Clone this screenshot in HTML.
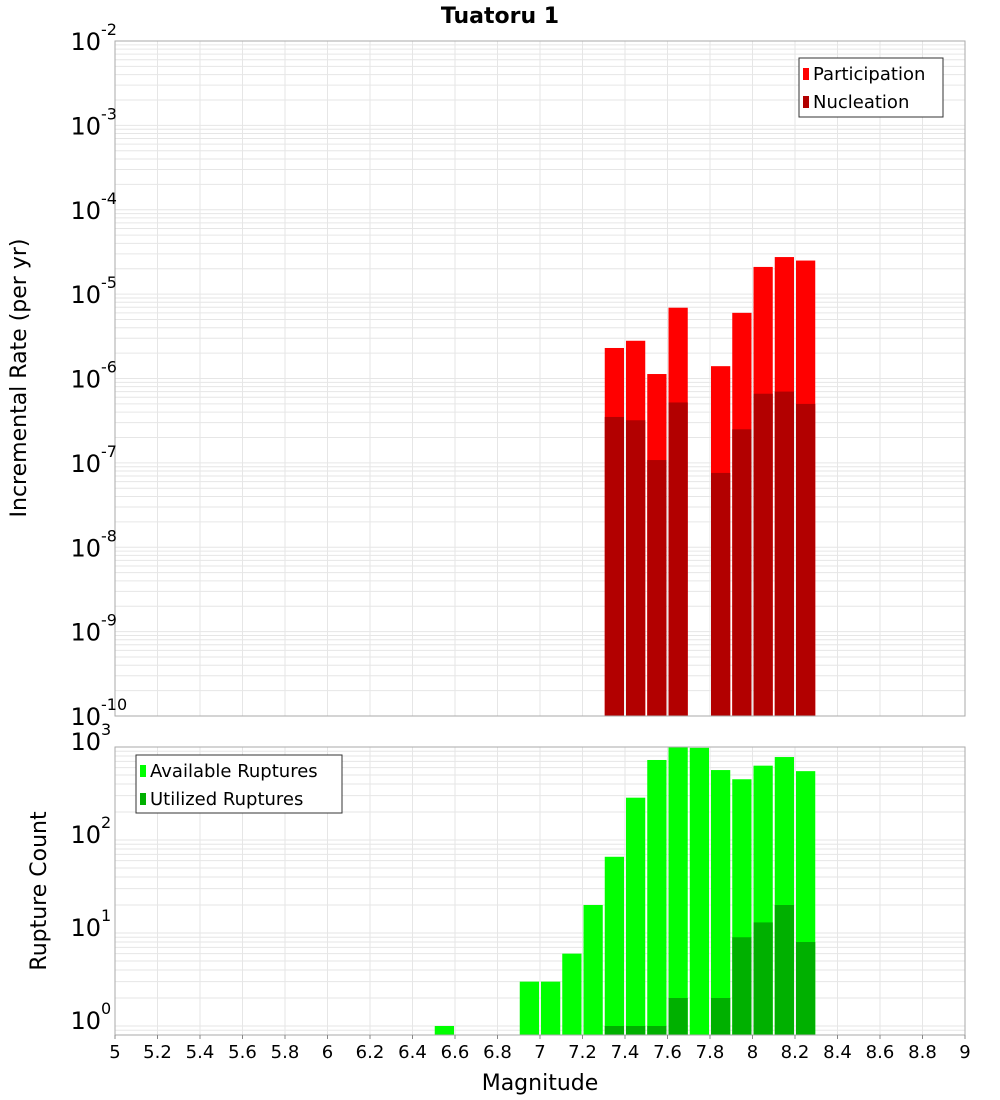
<!DOCTYPE html>
<html><head><meta charset="utf-8"><style>
html,body{margin:0;padding:0;background:#fff;}
svg{display:block;font-family:"DejaVu Sans","Liberation Sans",sans-serif;}
</style></head><body>
<svg id="chart" width="1000" height="1100" xmlns="http://www.w3.org/2000/svg">
<text x="500" y="23" text-anchor="middle" font-size="22" font-weight="bold">Tuatoru 1</text>
<g id="topPlot"></g>
<g id="botPlot"></g>
<text transform="translate(26,378) rotate(-90)" text-anchor="middle" font-size="22">Incremental Rate (per yr)</text>
<text transform="translate(46,891) rotate(-90)" text-anchor="middle" font-size="22">Rupture Count</text>
<text x="540" y="1090" text-anchor="middle" font-size="22">Magnitude</text>
</svg>
<script>
const magBins = [7.3,7.4,7.5,7.6,7.8,7.9,8.0,8.1,8.2];
const participation = [2.3e-6,2.8e-6,1.13e-6,6.9e-6,1.4e-6,6e-6,2.1e-5,2.75e-5,2.5e-5];
const nucleation = [3.5e-7,3.2e-7,1.08e-7,5.2e-7,7.6e-8,2.5e-7,6.6e-7,7e-7,5e-7];
const countBins = [6.5,6.9,7.0,7.1,7.2,7.3,7.4,7.5,7.6,7.7,7.8,7.9,8.0,8.1,8.2];
const available = [1,3,3,6,20,66,285,725,1000,980,565,450,630,780,550];
const utilized = [0,0,0,0,0,1,1,1,2,0,2,9,13,20,8];
const xTicks = [5,5.2,5.4,5.6,5.8,6,6.2,6.4,6.6,6.8,7,7.2,7.4,7.6,7.8,8,8.2,8.4,8.6,8.8,9];
const topExps = [-10,-9,-8,-7,-6,-5,-4,-3,-2];
const botExps = [0,1,2,3];

const NS="http://www.w3.org/2000/svg";
const X0=115,X1=965;
const xs=m=>X0+(m-5)/4*(X1-X0);
const yTop=v=>41+(-2-Math.log10(v))*(675/8);
const yBot=v=>1026-Math.log10(v)*93;
function mk(p,tag,a){const e=document.createElementNS(NS,tag);for(const k in a)e.setAttribute(k,a[k]);p.appendChild(e);return e;}

function grid(g,yt,y0,y1,lo,hi){
  mk(g,'rect',{x:X0,y:y0,width:X1-X0,height:y1-y0,fill:'#fff'});
  for(let m=5.2;m<8.95;m+=0.2){mk(g,'line',{x1:xs(m),x2:xs(m),y1:y0,y2:y1,stroke:'#e6e6e6','stroke-width':1});}
  for(let e=lo;e<=hi;e++)for(let k=1;k<10;k++){const y=yt(k*Math.pow(10,e));if(y<y0||y>y1)continue;
    mk(g,'line',{x1:X0,x2:X1,y1:y,y2:y,stroke:'#e6e6e6','stroke-width':1});}
}
const gTop=document.getElementById('topPlot'),gBot=document.getElementById('botPlot');
grid(gTop,yTop,41,716,-10,-3);
grid(gBot,yBot,747,1035,-1,2);

function bar(g,m,v,y,base,color,name){
  const x=xs(m)+1,w=xs(m+0.1)-xs(m)-2,yy=y(v);
  const r=mk(g,'rect',{x:x,y:yy,width:w,height:base-yy,fill:color});
  
  
}
magBins.forEach((m,i)=>bar(gTop,m,participation[i],yTop,716,'#ff0000','participation-bar'));
magBins.forEach((m,i)=>bar(gTop,m,nucleation[i],yTop,716,'#b20000','nucleation-bar'));
countBins.forEach((m,i)=>bar(gBot,m,available[i],yBot,1035,'#00ff00','available-bar'));
countBins.forEach((m,i)=>{if(utilized[i]>0)bar(gBot,m,utilized[i],yBot,1035,'#00b000','utilized-bar');});

mk(gTop,'rect',{x:X0,y:41,width:X1-X0,height:675,fill:'none',stroke:'#aaa','stroke-width':1});
mk(gBot,'rect',{x:X0,y:747,width:X1-X0,height:288,fill:'none',stroke:'#aaa','stroke-width':1});

function ylab(g,e,y){
  const t=mk(g,'text',{x:101,y:y+9,'text-anchor':'end','font-size':24});t.textContent='10';
  
  
  const s=mk(g,'text',{x:101,y:y-6,'font-size':16});s.textContent=String(e);
  
  
}
topExps.forEach(e=>ylab(gTop,e,yTop(Math.pow(10,e))));
botExps.forEach(e=>ylab(gBot,e,yBot(Math.pow(10,e))-6));

xTicks.forEach(m=>{
  mk(gBot,'line',{x1:xs(m),x2:xs(m),y1:1035,y2:1039,stroke:'#888'});
  const t=mk(gBot,'text',{x:xs(m),y:1058,'text-anchor':'middle','font-size':18});
  t.textContent=String(Math.round(m*10)/10);
  
  
});

function legend(g,x,y,w,h,items){
  const lg=mk(g,'g',{});
  
  
  mk(lg,'rect',{x:x,y:y,width:w,height:h,fill:'#fff',stroke:'#333','stroke-width':1});
  items.forEach((it,i)=>{
    const ent=mk(lg,'g',{});
    
    
    mk(ent,'rect',{x:x+4,y:y+10+i*28,width:6,height:12,fill:it[1]});
    const t=mk(ent,'text',{x:x+14,y:y+22+i*28,'font-size':18});t.textContent=it[0];
  });
}
legend(gTop,799,58,144,59,[['Participation','#ff0000'],['Nucleation','#b20000']]);
legend(gBot,136,755,206,58,[['Available Ruptures','#00ff00'],['Utilized Ruptures','#00b000']]);
</script>
</body></html>
